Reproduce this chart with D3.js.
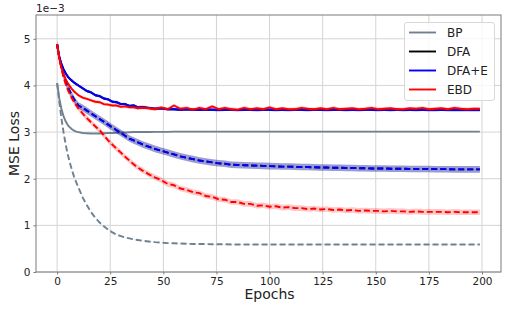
<!DOCTYPE html>
<html lang="en">
<head>
    <meta charset="UTF-8">
    <title>MSE Loss</title>
    <script src="https://cdn.jsdelivr.net/npm/d3@7/dist/d3.min.js"></script>
    <style>
        html, body {
            margin: 0;
            padding: 0;
            background: #fff;
        }

        svg text {
            font-family: "DejaVu Sans", sans-serif;
            fill: #222;
        }
    </style>
</head>
<body>
<svg id="graphDiv" width="514" height="309"></svg>
<script>
    // values are in units of 1e-3
    var epochs = [0, 1, 2, 3, 4, 5, 6, 7, 8, 9, 10,
        12, 14, 16, 18, 20, 22, 24, 26, 28, 30, 32, 34, 36, 38, 40,
        43, 46, 49, 52, 55, 58, 61, 64, 67, 70,
        73, 76, 79, 82, 85, 88, 91, 94, 97, 100,
        103, 106, 109, 112, 115, 118, 121, 124, 127, 130,
        133, 136, 139, 142, 145, 148, 151, 154, 157, 160,
        163, 166, 169, 172, 175, 178, 181, 184, 187, 190,
        193, 196, 199];

    var bpTrain = [4.05, 3.72, 3.50, 3.34, 3.23, 3.15, 3.10, 3.06, 3.03, 3.01, 3.00,
        2.98, 2.975, 2.97, 2.97, 2.97, 2.975, 2.98, 2.98, 2.985, 2.99, 2.99, 2.995, 3.00, 3.00, 3.00,
        3.00, 3.005, 3.005, 3.005, 3.01, 3.01, 3.01, 3.01, 3.01, 3.01,
        3.01, 3.01, 3.01, 3.01, 3.01, 3.01, 3.01, 3.01, 3.01, 3.01,
        3.01, 3.01, 3.01, 3.01, 3.01, 3.01, 3.01, 3.01, 3.01, 3.01,
        3.01, 3.01, 3.01, 3.01, 3.01, 3.01, 3.01, 3.01, 3.01, 3.01,
        3.01, 3.01, 3.01, 3.01, 3.01, 3.01, 3.01, 3.01, 3.01, 3.01,
        3.01, 3.01, 3.01];

    var bpTest = [4.05, 3.65, 3.30, 3.00, 2.74, 2.52, 2.34, 2.18, 2.04, 1.92, 1.81,
        1.60, 1.43, 1.28, 1.16, 1.06, 0.98, 0.91, 0.85, 0.80, 0.77, 0.74, 0.72, 0.70, 0.685, 0.67,
        0.655, 0.64, 0.63, 0.62, 0.615, 0.61, 0.605, 0.60, 0.60, 0.60,
        0.595, 0.595, 0.595, 0.59, 0.59, 0.59, 0.59, 0.59, 0.59, 0.59,
        0.59, 0.59, 0.59, 0.59, 0.59, 0.59, 0.59, 0.59, 0.59, 0.59,
        0.59, 0.59, 0.59, 0.59, 0.59, 0.59, 0.59, 0.59, 0.59, 0.59,
        0.59, 0.59, 0.59, 0.59, 0.59, 0.59, 0.59, 0.59, 0.59, 0.59,
        0.59, 0.59, 0.59];

    var dfaeTrain = [4.88, 4.62, 4.46, 4.35, 4.26, 4.19, 4.14, 4.10, 4.06, 4.03, 4.00,
        3.94, 3.88, 3.85, 3.79, 3.77, 3.72, 3.70, 3.65, 3.64, 3.60, 3.60, 3.56, 3.57, 3.53, 3.54,
        3.52, 3.50, 3.51, 3.49, 3.49, 3.48, 3.49, 3.48, 3.48, 3.48,
        3.48, 3.47, 3.48, 3.48, 3.47, 3.48, 3.48, 3.47, 3.48, 3.48,
        3.47, 3.48, 3.47, 3.48, 3.48, 3.47, 3.48, 3.48, 3.47, 3.48,
        3.48, 3.47, 3.48, 3.47, 3.48, 3.48, 3.47, 3.48, 3.47, 3.48,
        3.47, 3.48, 3.47, 3.48, 3.47, 3.47, 3.48, 3.47, 3.47, 3.47,
        3.47, 3.47, 3.47];

    var dfaeTest = [4.88, 4.60, 4.40, 4.22, 4.08, 3.97, 3.87, 3.78, 3.70, 3.63, 3.57,
        3.52, 3.46, 3.40, 3.34, 3.28, 3.22, 3.16, 3.10, 3.04, 2.98, 2.92, 2.86, 2.82, 2.78, 2.74,
        2.69, 2.64, 2.60, 2.56, 2.52, 2.48, 2.45, 2.42, 2.39, 2.37,
        2.35, 2.33, 2.32, 2.30, 2.295, 2.29, 2.285, 2.28, 2.275, 2.27,
        2.265, 2.26, 2.26, 2.255, 2.25, 2.25, 2.245, 2.24, 2.24, 2.235,
        2.235, 2.23, 2.23, 2.225, 2.225, 2.22, 2.22, 2.22, 2.215, 2.215,
        2.215, 2.21, 2.21, 2.21, 2.21, 2.205, 2.205, 2.205, 2.20, 2.20,
        2.20, 2.20, 2.20];

    // DFA sits exactly under DFA+E in the figure
    var dfaTrain = dfaeTrain.slice();
    var dfaTest = dfaeTest.slice();

    var ebdTrain = [4.88, 4.58, 4.38, 4.25, 4.14, 4.05, 3.98, 3.92, 3.87, 3.83, 3.79,
        3.74, 3.71, 3.68, 3.65, 3.64, 3.60, 3.59, 3.57, 3.57, 3.54, 3.55, 3.53, 3.53, 3.51, 3.52,
        3.51, 3.49, 3.53, 3.49, 3.57, 3.50, 3.52, 3.48, 3.52, 3.49,
        3.55, 3.49, 3.52, 3.49, 3.48, 3.52, 3.49, 3.51, 3.49, 3.53,
        3.49, 3.51, 3.49, 3.49, 3.52, 3.50, 3.49, 3.51, 3.49, 3.52,
        3.49, 3.50, 3.51, 3.49, 3.50, 3.52, 3.49, 3.50, 3.51, 3.49,
        3.49, 3.51, 3.50, 3.52, 3.49, 3.50, 3.51, 3.49, 3.52, 3.50,
        3.49, 3.50, 3.50];

    var ebdTest = [4.88, 4.58, 4.36, 4.18, 4.03, 3.91, 3.81, 3.72, 3.64, 3.57, 3.51,
        3.40, 3.30, 3.21, 3.12, 3.04, 2.93, 2.82, 2.73, 2.64, 2.56, 2.47, 2.39, 2.31, 2.24, 2.18,
        2.10, 2.03, 1.97, 1.89, 1.86, 1.79, 1.76, 1.71, 1.69, 1.63,
        1.61, 1.56, 1.55, 1.50, 1.50, 1.46, 1.46, 1.42, 1.43, 1.40,
        1.41, 1.38, 1.39, 1.37, 1.37, 1.35, 1.36, 1.34, 1.35, 1.33,
        1.34, 1.32, 1.33, 1.31, 1.32, 1.31, 1.31, 1.30, 1.31, 1.30,
        1.30, 1.29, 1.30, 1.29, 1.29, 1.29, 1.29, 1.28, 1.29, 1.28,
        1.28, 1.28, 1.28];

    var methods = ["BP", "DFA", "DFA+E", "EBD"];
    var trainSpread = [0.005, 0.03, 0.03, 0.035];
    var testSpread = [0.005, 0.07, 0.07, 0.06];
    var xTicks = [0, 25, 50, 75, 100, 125, 150, 175, 200];
    var yTicks = [0, 1, 2, 3, 4, 5];

    var colors = ["#708090", "#000000", "#0000ff", "#ff0000"];
    var series = [
        {name: "BP", train: bpTrain, test: bpTest},
        {name: "DFA", train: dfaTrain, test: dfaTest},
        {name: "DFA+E", train: dfaeTrain, test: dfaeTest},
        {name: "EBD", train: ebdTrain, test: ebdTest}
    ];

    var svg = d3.select("#graphDiv");
    var pLeft = 36, pRight = 501, pTop = 15, pBottom = 272;

    var x = d3.scaleLinear().domain([-9.95, 208.95]).range([pLeft, pRight]);
    var y = d3.scaleLinear().domain([0, 5.51]).range([pBottom, pTop]);

    // grid
    svg.append("g").selectAll("line").data(xTicks).enter().append("line")
        .attr("x1", function (d) { return x(d); })
        .attr("x2", function (d) { return x(d); })
        .attr("y1", pTop).attr("y2", pBottom)
        .style("stroke", "#d4d4d4").style("stroke-width", 1);
    svg.append("g").selectAll("line").data(yTicks).enter().append("line")
        .attr("x1", pLeft).attr("x2", pRight)
        .attr("y1", function (d) { return y(d); })
        .attr("y2", function (d) { return y(d); })
        .style("stroke", "#d4d4d4").style("stroke-width", 1);

    svg.append("clipPath").attr("id", "plotClip").append("rect")
        .attr("x", pLeft).attr("y", pTop)
        .attr("width", pRight - pLeft).attr("height", pBottom - pTop);

    var plot = svg.append("g").attr("clip-path", "url(#plotClip)");

    function band(vals, s) {
        return d3.area()
            .x(function (d, i) { return x(epochs[i]); })
            .y0(function (d) { return y(d - s); })
            .y1(function (d) { return y(d + s); })(vals);
    }

    var line = d3.line()
        .x(function (d, i) { return x(epochs[i]); })
        .y(function (d) { return y(d); });

    series.forEach(function (s, k) {
        plot.append("path").attr("d", band(s.train, trainSpread[k]))
            .style("fill", colors[k]).style("opacity", 0.2);
        plot.append("path").attr("d", band(s.test, testSpread[k]))
            .style("fill", colors[k]).style("opacity", 0.22);
        plot.append("path").attr("d", line(s.train))
            .style("fill", "none").style("stroke", colors[k])
            .style("stroke-width", 1.9).style("stroke-linejoin", "round");
        plot.append("path").attr("d", line(s.test))
            .style("fill", "none").style("stroke", colors[k])
            .style("stroke-width", 1.9).style("stroke-dasharray", "6,3");
    });

    // frame
    svg.append("rect").attr("x", pLeft).attr("y", pTop)
        .attr("width", pRight - pLeft).attr("height", pBottom - pTop)
        .style("fill", "none").style("stroke", "#7a7a7a").style("stroke-width", 1);

    var xAxis = svg.append("g").attr("transform", "translate(0," + pBottom + ")")
        .call(d3.axisBottom(x).tickValues(xTicks).tickFormat(d3.format("d"))
            .tickSize(2.5).tickPadding(3));
    var yAxis = svg.append("g").attr("transform", "translate(" + pLeft + ",0)")
        .call(d3.axisLeft(y).tickValues(yTicks).tickFormat(d3.format("d"))
            .tickSize(2.5).tickPadding(3));
    [xAxis, yAxis].forEach(function (a) {
        a.select(".domain").remove();
        a.selectAll("line").style("stroke", "#7a7a7a");
        a.selectAll("text").style("font-size", "10.5px").style("fill", "#222")
            .style("font-family", "DejaVu Sans, sans-serif");
    });

    svg.append("text").attr("x", x(100)).attr("y", 299)
        .attr("text-anchor", "middle").style("font-size", "14px").text("Epochs");
    svg.append("text").attr("transform", "translate(19," + ((pTop + pBottom) / 2) + ") rotate(-90)")
        .attr("text-anchor", "middle").style("font-size", "14px").text("MSE Loss");
    svg.append("text").attr("x", pLeft).attr("y", 12)
        .style("font-size", "10.5px").text("1e\u22123");

    // legend
    var lg = svg.append("g");
    lg.append("rect").attr("x", 404.5).attr("y", 22.5).attr("width", 90).attr("height", 78)
        .attr("rx", 2.5)
        .style("fill", "#fff").style("fill-opacity", 0.8)
        .style("stroke", "#d8d8d8").style("stroke-width", 1);
    methods.forEach(function (m, k) {
        var ly = 32.5 + k * 19;
        lg.append("line").attr("x1", 409).attr("x2", 436).attr("y1", ly).attr("y2", ly)
            .style("stroke", colors[k]).style("stroke-width", 1.9);
        lg.append("text").attr("x", 447).attr("y", ly + 4.3)
            .style("font-size", "12px").text(m);
    });
</script>
</body>
</html>
